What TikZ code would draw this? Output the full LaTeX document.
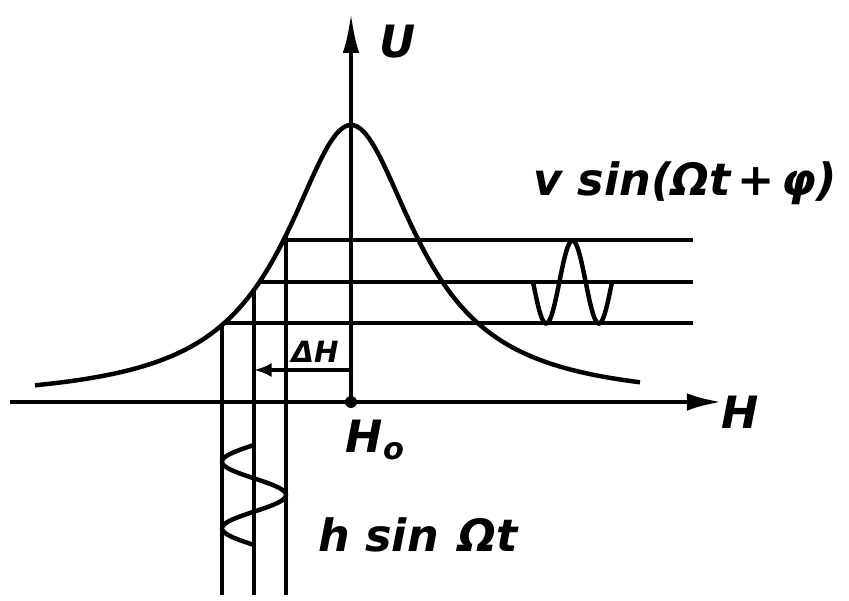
\documentclass[tikz,border=0pt]{standalone}
\usepackage{fontspec}
\setmainfont{DejaVu Sans}
\usetikzlibrary{arrows.meta}

\begin{document}
\begin{tikzpicture}[x=0.3mm, y=0.3mm, line width=3.8pt,
  lbl/.style={font=\bfseries\itshape\fontsize{38}{44}\selectfont, inner sep=0pt},
  smalllbl/.style={font=\bfseries\itshape\fontsize{25}{30}\selectfont, inner sep=0pt}
  ]
  \useasboundingbox (-351,-199) rectangle (498,402);
  % Kurvenparameter
  \def\peak{277}
  \def\hw{80}

  % Achsen
  \coordinate (O) at (0,0);
  \coordinate (Hstart) at (-341,0);
  \coordinate (Hend) at (371,0);
  \coordinate (Utop) at (0,389);
  \draw[-{Latex[length=30pt,width=15pt]}] (Hstart) -- (Hend);
  \draw[-{Latex[length=34pt,width=14pt]}] (O) -- (Utop);
  \fill (O) circle (6);

  % Resonanzkurve
  \draw plot[domain=-316:289, samples=200, smooth] (\x,{\peak/(1+(\x/\hw)^2)});

  % senkrechte Linien
  \foreach \xv/\n in {65/vr, 97/vm, 129/vl} {
    \coordinate (\n) at (-\xv,{\peak/(1+(\xv/\hw)^2)});
    \coordinate (\n b) at (-\xv,-193);
    \draw (\n) -- (\n b);
  }

  % waagerechte Linien
  \foreach \hv/\n in {162/ht, 120/hm, 79/hb} {
    \coordinate (\n) at ({-\hw*sqrt(\peak/\hv-1)},\hv);
    \coordinate (\n e) at (342,\hv);
    \draw (\n) -- (\n e);
  }

  % Verschiebung
  \coordinate (dH) at (0,32);
  \draw[-{Latex[length=15pt,width=12pt]}] (dH) -- (dH -| vm);
  \node[smalllbl] (dHlbl) at (-36,50) {ΔH};

  % Signale
  \draw plot[domain=0:1, samples=80, smooth] ({182+79*\x},{120-41.5*sin(540*\x)});
  \draw plot[domain=0:1, samples=80, smooth] ({-97-32*sin(540*\x)},{-43-100*\x});

  % Beschriftung
  \node[lbl] (Ulbl) at (47,360) {U};
  \node[lbl] (vlbl) at (334,219) {v sin(Ωt\hspace{0.15em}+\hspace{0.15em}φ)};
  \node[lbl] (Hlbl) at (389,-10) {H};
  \node[lbl] (H0lbl) at (24,-38) {H\raisebox{-0.25ex}{\fontsize{26}{30}\selectfont o}};
  \node[lbl] (hlbl) at (67,-133) {h\hspace{0.35em}sin\hspace{0.45em}Ωt};
\end{tikzpicture}
\end{document}
